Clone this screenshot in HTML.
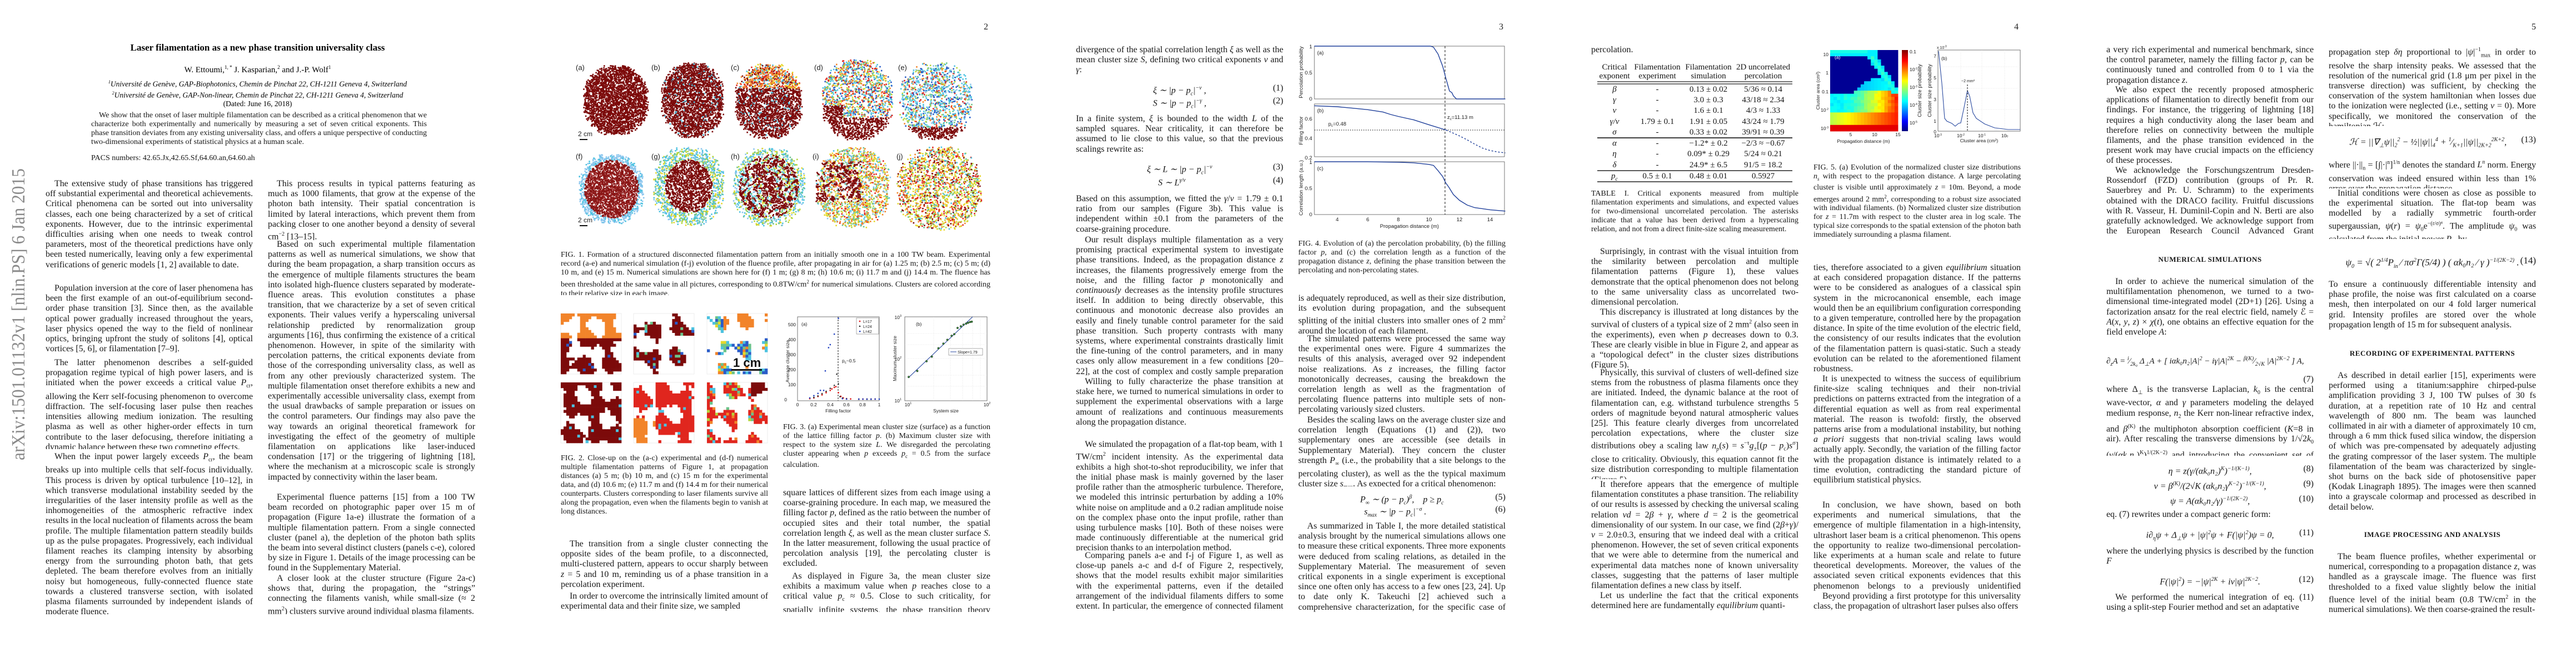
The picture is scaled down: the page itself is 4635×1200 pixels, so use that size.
<!DOCTYPE html>
<html><head><meta charset="utf-8">
<style>
html,body{margin:0;padding:0;background:#fff;}
body{width:4635px;height:1200px;position:relative;overflow:hidden;}
.pg{position:absolute;top:0;width:927px;height:1200px;}
.t{position:absolute;font-family:"Liberation Serif",serif;font-size:15.9px;line-height:18.2px;text-align:justify;overflow:hidden;width:373px;color:#161616;}
.L{left:82px}.Rr{left:482px}
.i{text-indent:16px}
.c{position:absolute;font-family:"Liberation Serif",serif;font-size:14px;line-height:16px;text-align:justify;overflow:hidden;color:#161616;}
.eq{position:absolute;width:373px;text-align:center;height:20px;line-height:20px;font-family:"Liberation Serif",serif;font-size:16px;font-style:italic;white-space:nowrap;color:#161616}
.eq .n{position:absolute;right:0;top:0;font-style:normal}
.pn{position:absolute;top:40px;font-family:"Liberation Serif",serif;font-size:16px;color:#222}
.h{position:absolute;width:373px;text-align:center;font-family:"Liberation Serif",serif;font-weight:bold;font-size:13px;letter-spacing:0.5px;color:#161616}
svg text{font-family:"Liberation Sans",sans-serif;}
</style></head><body>
<svg id="S" width="4635" height="1200" style="position:absolute;left:0;top:0">
<text transform="translate(44,828) rotate(-90)" font-family="Liberation Serif" style="font-family:'Liberation Serif',serif" font-size="34" textLength="525" lengthAdjust="spacingAndGlyphs" fill="#8a8a8a">arXiv:1501.01132v1  [nlin.PS]  6 Jan 2015</text>
<g id="f1"></g>
<g id="f2"></g>
<g font-size="13" fill="#222">
<text x="1036" y="126">(a)</text><text x="1172" y="126">(b)</text><text x="1315" y="126">(c)</text><text x="1465" y="126">(d)</text><text x="1616" y="126">(e)</text>
<text x="1036" y="286">(f)</text><text x="1172" y="286">(g)</text><text x="1315" y="286">(h)</text><text x="1462" y="286">(i)</text><text x="1613" y="286">(j)</text>
<text x="1040" y="245" font-size="12">2 cm</text><rect x="1043" y="250" width="14" height="2" fill="#111"/>
<text x="1040" y="400" font-size="12">2 cm</text><rect x="1043" y="405" width="14" height="2" fill="#111"/>
</g>
<g id="f3" font-size="8.5" fill="#222">
<rect x="1435" y="570" width="147" height="151" fill="#fff" stroke="#555" stroke-width="0.8"/>
<line x1="1508" y1="570" x2="1508" y2="721" stroke="#111" stroke-dasharray="3,2"/>
<text x="1416" y="722" text-anchor="end">0</text><text x="1432" y="695" text-anchor="end">100</text><text x="1432" y="668" text-anchor="end">200</text><text x="1432" y="641" text-anchor="end">300</text><text x="1432" y="614" text-anchor="end">400</text><text x="1432" y="587" text-anchor="end">500</text>
<text x="1435" y="731" text-anchor="middle">0</text><text x="1464" y="731" text-anchor="middle">0.2</text><text x="1494" y="731" text-anchor="middle">0.4</text><text x="1523" y="731" text-anchor="middle">0.6</text><text x="1552" y="731" text-anchor="middle">0.8</text><text x="1582" y="731" text-anchor="middle">1</text>
<text x="1508" y="742" text-anchor="middle">Filling factor</text>
<text transform="translate(1420,650) rotate(-90)" text-anchor="middle">Average cluster size</text>
<text x="1442" y="586">(a)</text>
<text x="1515" y="652">p<tspan font-size="6" dy="2">c</tspan><tspan dy="-2">~0.5</tspan></text>
<rect x="1541" y="572" width="40" height="29" fill="#fff" stroke="#777" stroke-width="0.6"/>
<circle cx="1547" cy="578" r="1.4" fill="#e02020"/><text x="1553" y="581" font-size="7">L=17</text>
<path d="M1547,585 l1.6,3 h-3.2z" fill="#111"/><text x="1553" y="590" font-size="7">L=24</text>
<rect x="1546" y="595" width="2.4" height="2.4" fill="#2040c0"/><text x="1553" y="599" font-size="7">L=42</text>
<rect x="1628" y="570" width="148" height="151" fill="#fff" stroke="#555" stroke-width="0.8"/>
<g stroke="#ccc" stroke-width="0.5" stroke-dasharray="1,2">
<line x1="1628" y1="645" x2="1776" y2="645"/><line x1="1628" y1="600" x2="1776" y2="600"/><line x1="1628" y1="620" x2="1776" y2="620"/><line x1="1628" y1="675" x2="1776" y2="675"/><line x1="1628" y1="695" x2="1776" y2="695"/>
<line x1="1680" y1="570" x2="1680" y2="721"/><line x1="1710" y1="570" x2="1710" y2="721"/><line x1="1732" y1="570" x2="1732" y2="721"/><line x1="1750" y1="570" x2="1750" y2="721"/><line x1="1764" y1="570" x2="1764" y2="721"/></g>
<line x1="1634" y1="680" x2="1750" y2="570" stroke="#2a4aa0" stroke-width="1.1"/>
<text x="1622" y="574" text-anchor="end">10<tspan font-size="5.5" dy="-4">3</tspan></text><text x="1622" y="649" text-anchor="end">10<tspan font-size="5.5" dy="-4">2</tspan></text><text x="1622" y="724" text-anchor="end">10<tspan font-size="5.5" dy="-4">1</tspan></text>
<text x="1634" y="731" text-anchor="middle">10<tspan font-size="5.5" dy="-4">1</tspan></text><text x="1776" y="731" text-anchor="middle">10<tspan font-size="5.5" dy="-4">2</tspan></text>
<text x="1702" y="742" text-anchor="middle">System size</text>
<text transform="translate(1613,645) rotate(-90)" text-anchor="middle">Maximum cluster size</text>
<text x="1648" y="586">(b)</text>
<rect x="1707" y="627" width="61" height="12" fill="#fff" stroke="#777" stroke-width="0.6"/><line x1="1710" y1="633" x2="1721" y2="633" stroke="#2a4aa0"/><text x="1723" y="636" font-size="7">Slope=1.79</text>
</g>
<g transform="translate(1854,0)" font-size="9.5" fill="#222" id="f4">
<rect x="511" y="83" width="342" height="95" fill="none" stroke="#555" stroke-width="0.8"/>
<rect x="511" y="187" width="342" height="95" fill="none" stroke="#555" stroke-width="0.8"/>
<rect x="511" y="291" width="342" height="95" fill="none" stroke="#555" stroke-width="0.8"/>
<line x1="746" y1="83" x2="746" y2="386" stroke="#111" stroke-dasharray="4,3"/>
<line x1="511" y1="234" x2="853" y2="234" stroke="#333" stroke-dasharray="2,2"/>
<text x="507" y="87" text-anchor="end">1</text><text x="507" y="134" text-anchor="end">0.5</text><text x="507" y="181" text-anchor="end">0</text>
<text x="507" y="217" text-anchor="end">0.6</text><text x="507" y="252" text-anchor="end">0.4</text><text x="507" y="287" text-anchor="end">0.2</text>
<text x="507" y="295" text-anchor="end">1</text><text x="507" y="342" text-anchor="end">0.5</text><text x="507" y="389" text-anchor="end">0</text>
<text x="552" y="398" text-anchor="middle">4</text><text x="607" y="398" text-anchor="middle">6</text><text x="662" y="398" text-anchor="middle">8</text><text x="717" y="398" text-anchor="middle">10</text><text x="772" y="398" text-anchor="middle">12</text><text x="827" y="398" text-anchor="middle">14</text>
<text x="682" y="410" text-anchor="middle">Propagation distance (m)</text>
<text transform="translate(490,130) rotate(-90)" text-anchor="middle">Percolation probability</text>
<text transform="translate(490,235) rotate(-90)" text-anchor="middle">Filling factor</text>
<text transform="translate(490,338) rotate(-90)" text-anchor="middle">Correlation length (a.u.)</text>
<text x="516" y="98">(a)</text><text x="516" y="202">(b)</text><text x="516" y="306">(c)</text>
<text x="536" y="226">p<tspan font-size="6" dy="2">c</tspan><tspan dy="-2">=0.48</tspan></text>
<text x="750" y="214">z<tspan font-size="6" dy="2">c</tspan><tspan dy="-2">=11.13 m</tspan></text>
<path id="c4a" fill="none" stroke="#1f3f9a" stroke-width="1.4"/>
<path id="c4b" fill="none" stroke="#1f3f9a" stroke-width="1.4"/>
<path id="c4b2" fill="none" stroke="#1f3f9a" stroke-width="1.4" stroke-dasharray="3,3"/>
<path id="c4c" fill="none" stroke="#1f3f9a" stroke-width="1.4"/>
</g>
<g transform="translate(2781,0)" stroke="#222">
<line x1="93" y1="147" x2="444" y2="147" stroke-width="1.2"/><line x1="93" y1="151" x2="444" y2="151" stroke-width="1.2"/>
<line x1="93" y1="248" x2="444" y2="248" stroke-width="1.8"/>
<line x1="93" y1="307" x2="444" y2="307" stroke-width="1.4"/>
<line x1="93" y1="327" x2="444" y2="327" stroke-width="1.4"/>
</g>
<g transform="translate(2781,0)" font-size="8.5" fill="#222">
<g id="hm"></g>
<defs><linearGradient id="jet" x1="0" y1="1" x2="0" y2="0"><stop offset="0" stop-color="#000080"/><stop offset="0.12" stop-color="#0000ff"/><stop offset="0.37" stop-color="#00ffff"/><stop offset="0.62" stop-color="#ffff00"/><stop offset="0.87" stop-color="#ff0000"/><stop offset="1" stop-color="#800000"/></linearGradient></defs>
<rect x="641" y="90" width="11" height="146" fill="url(#jet)"/>
<text x="655" y="96">0.1</text><text x="655" y="128">10<tspan font-size="5" dy="-3">-2</tspan></text><text x="655" y="160">10<tspan font-size="5" dy="-3">-3</tspan></text><text x="655" y="192">10<tspan font-size="5" dy="-3">-4</tspan></text><text x="655" y="224">10<tspan font-size="5" dy="-3">-5</tspan></text>
<text x="509" y="101" text-anchor="end">10</text><text x="509" y="134" text-anchor="end">1</text><text x="509" y="168" text-anchor="end">0.1</text><text x="509" y="201" text-anchor="end">10<tspan font-size="5" dy="-3">-2</tspan></text><text x="509" y="234" text-anchor="end">10<tspan font-size="5" dy="-3">-3</tspan></text>
<text x="549" y="245" text-anchor="middle">5</text><text x="592" y="245" text-anchor="middle">10</text><text x="634" y="245" text-anchor="middle">15</text>
<text x="572" y="257" text-anchor="middle">Propagation distance (m)</text>
<text transform="translate(493,163) rotate(-90)" text-anchor="middle">Cluster area (cm²)</text>
<text transform="translate(676,163) rotate(-90)" text-anchor="middle" font-size="9.5">Cluster size probability</text>
<text transform="translate(694,163) rotate(-90)" text-anchor="middle" font-size="9.5">Cluster size probability</text>
<text x="520" y="106" fill="#fff">(a)</text>
<rect x="706" y="90" width="148" height="146" fill="#fff" stroke="#555" stroke-width="0.8"/>
<g stroke="#ccc" stroke-width="0.5" stroke-dasharray="1,2"><line x1="747" y1="90" x2="747" y2="236"/><line x1="785" y1="90" x2="785" y2="236"/><line x1="826" y1="90" x2="826" y2="236"/><line x1="706" y1="120" x2="854" y2="120"/><line x1="706" y1="159" x2="854" y2="159"/><line x1="706" y1="197" x2="854" y2="197"/></g>
<polyline fill="none" stroke="#2a4aa0" stroke-width="1.1" points="707,92 713,150 718,213 722,218 731,222 737,227 743,222 747,221 753,193 759,163 763,173 769,203 775,213 790,223 808,230 832,233 854,233"/>
<line x1="759" y1="152" x2="759" y2="236" stroke="#111" stroke-dasharray="3,2"/>
<text x="748" y="148" font-size="7">~2 mm²</text>
<text x="704" y="88" font-size="7">x 10<tspan font-size="5" dy="-3">-3</tspan></text>
<text x="712" y="108">(b)</text>
<text x="703" y="104" text-anchor="end">7</text><text x="703" y="182" text-anchor="end">3</text><text x="703" y="240" text-anchor="end">0</text><text x="703" y="143" text-anchor="end">5</text><text x="703" y="221" text-anchor="end">1</text>
<text x="706" y="247" text-anchor="middle">10<tspan font-size="5" dy="-3">-3</tspan></text><text x="747" y="247" text-anchor="middle">10<tspan font-size="5" dy="-3">-2</tspan></text><text x="785" y="247" text-anchor="middle">10<tspan font-size="5" dy="-3">-1</tspan></text><text x="826" y="247" text-anchor="middle">10<tspan font-size="5" dy="0">0</tspan></text>
<text x="780" y="256" text-anchor="middle">Cluster area (cm²)</text>
</g>
</svg>

<div class="pg" style="left:0">
<div style="position:absolute;top:76px;left:0;width:927px;text-align:center;font-family:'Liberation Serif',serif;font-weight:bold;font-size:17px">Laser filamentation as a new phase transition universality class</div>
<div style="position:absolute;top:116px;left:0;width:927px;text-align:center;font-family:'Liberation Serif',serif;font-size:15px">W. Ettoumi,<sup style="font-size:9px">1, *</sup> J. Kasparian,<sup style="font-size:9px">2</sup> and J.-P. Wolf<sup style="font-size:9px">1</sup></div>
<div style="position:absolute;top:140px;left:0;width:927px;text-align:center;font-family:'Liberation Serif',serif;font-size:13.5px;font-style:italic;line-height:16px"><sup style="font-size:8px">1</sup>Université de Genève, GAP-Biophotonics, Chemin de Pinchat 22, CH-1211 Geneva 4, Switzerland<br><sup style="font-size:8px">2</sup>Université de Genève, GAP-Non-linear, Chemin de Pinchat 22, CH-1211 Geneva 4, Switzerland<br><span style="font-style:normal">(Dated: June 16, 2018)</span></div>
<div class="c" style="left:164px;top:200px;width:604px;height:64px;text-indent:14px">We show that the onset of laser multiple filamentation can be described as a critical phenomenon that we characterize both experimentally and numerically by measuring a set of seven critical exponents. This phase transition deviates from any existing universality class, and offers a unique perspective of conducting two-dimensional experiments of statistical physics at a human scale.</div>
<div class="c" style="left:164px;top:277px;width:604px;height:16px">PACS numbers: 42.65.Jx,42.65.Sf,64.60.an,64.60.ah</div>
<div class="t L i" style="top:322px;height:182px">The extensive study of phase transitions has triggered off substantial experimental and theoretical achievements. Critical phenomena can be sorted out into universality classes, each one being characterized by a set of critical exponents. However, due to the intrinsic experimental difficulties arising when one needs to tweak control parameters, most of the theoretical predictions have only been tested numerically, leaving only a few experimental verifications of generic models [1, 2] available to date.</div>
<div class="t L i" style="top:510px;height:128px">Population inversion at the core of laser phenomena has been the first example of an out-of-equilibrium second-order phase transition [3]. Since then, as the available optical power gradually increased throughout the years, laser physics opened the way to the field of nonlinear optics, bringing upfront the study of solitons [4], optical vortices [5, 6], or filamentation [7–9].</div>
<div class="t L i" style="top:644px;height:164px">The latter phenomenon describes a self-guided propagation regime typical of high power lasers, and is initiated when the power exceeds a critical value <i>P</i><sub style="font-size:10px">cr</sub>, allowing the Kerr self-focusing phenomenon to overcome diffraction. The self-focusing laser pulse then reaches intensities allowing medium ionization. The resulting plasma as well as other higher-order effects in turn contribute to the laser defocusing, therefore initiating a dynamic balance between these two competing effects.</div>
<div class="t L i" style="top:813px;height:292px">When the input power largely exceeds <i>P</i><sub style="font-size:10px">cr</sub>, the beam breaks up into multiple cells that self-focus individually. This process is driven by optical turbulence [10–12], in which transverse modulational instability seeded by the irregularities of the laser intensity profile as well as the inhomogeneities of the atmospheric refractive index results in the local nucleation of filaments across the beam profile. The multiple filamentation pattern steadily builds up as the pulse propagates. Progressively, each individual filament reaches its clamping intensity by absorbing energy from the surrounding photon bath, that gets depleted. The beam therefore evolves from an initially noisy but homogeneous, fully-connected fluence state towards a clustered transverse section, with isolated plasma filaments surrounded by independent islands of moderate fluence.</div>
<div class="t Rr i" style="top:322px;height:110px">This process results in typical patterns featuring as much as 1000 filaments, that grow at the expense of the photon bath intensity. Their spatial concentration is limited by lateral interactions, which prevent them from packing closer to one another beyond a density of several cm<sup style="font-size:10px">−2</sup> [13–15].</div>
<div class="t Rr i" style="top:431px;height:437px">Based on such experimental multiple filamentation patterns as well as numerical simulations, we show that during the beam propagation, a sharp transition occurs as the emergence of multiple filaments structures the beam into isolated high-fluence clusters separated by moderate-fluence areas. This evolution constitutes a phase transition, that we characterize by a set of seven critical exponents. Their values verify a hyperscaling universal relationship predicted by renormalization group arguments [16], thus confirming the existence of a critical phenomenon. However, in spite of the similarity with percolation patterns, the critical exponents deviate from those of the corresponding universality class, as well as from any other previously characterized system. The multiple filamentation onset therefore exhibits a new and experimentally accessible universality class, exempt from the usual drawbacks of sample preparation or issues on the control parameters. Our findings may also pave the way towards an original theoretical framework for investigating the effect of the geometry of multiple filamentation on applications like laser-induced condensation [17] or the triggering of lightning [18], where the mechanism at a microscopic scale is strongly impacted by connectivity within the laser beam.</div>
<div class="t Rr i" style="top:886px;height:146px">Experimental fluence patterns [15] from a 100 TW beam recorded on photographic paper over 15 m of propagation (Figure 1a-e) illustrate the formation of a multiple filamentation pattern. From a single connected cluster (panel a), the depletion of the photon bath splits the beam into several distinct clusters (panels c-e), colored by size in Figure 1. Details of the image processing can be found in the Supplementary Material.</div>
<div class="t Rr i" style="top:1032px;height:73px">A closer look at the cluster structure (Figure 2a-c) shows that, during the propagation, the “strings” connecting the filaments vanish, while small-size (≈ 2 mm<sup style="font-size:10px">2</sup>) clusters survive around individual plasma filaments.</div>
</div>

<div class="pg" style="left:927px">
<div class="pn" style="left:843px">2</div>
<div class="c" style="left:82px;top:451px;width:773px;height:80px">FIG. 1. Formation of a structured disconnected filamentation pattern from an initially smooth one in a 100 TW beam. Experimental record (a-e) and numerical simulation (f-j) evolution of the fluence profile, after propagating in air for (a) 1.25 m; (b) 2.5 m; (c) 5 m; (d) 10 m, and (e) 15 m. Numerical simulations are shown here for (f) 1 m; (g) 8 m; (h) 10.6 m; (i) 11.7 m and (j) 14.4 m. The fluence has been thresholded at the same value in all pictures, corresponding to 0.8TW/cm<sup style="font-size:9px">2</sup> for numerical simulations. Clusters are colored according to their relative size in each image.</div>
<div class="c" style="left:82px;top:817px;width:373px;height:112px">FIG. 2. Close-up on the (a-c) experimental and (d-f) numerical multiple filamentation patterns of Figure 1, at propagation distances (a) 5 m; (b) 10 m, and (c) 15 m for the experimental data, and (d) 10.6 m; (e) 11.7 m and (f) 14.4 m for their numerical counterparts. Clusters corresponding to laser filaments survive all along the propagation, even when the filaments begin to vanish at long distances.</div>
<div class="c" style="left:482px;top:761px;width:373px;height:80px">FIG. 3. (a) Experimental mean cluster size (surface) as a function of the lattice filling factor <i>p</i>. (b) Maximum cluster size with respect to the system size <i>L</i>. We disregarded the percolating cluster appearing when <i>p</i> exceeds <i>p</i><sub style="font-size:9px">c</sub> = 0.5 from the surface calculation.</div>
<div class="t L i" style="top:970px;height:91px">The transition from a single cluster connecting the opposite sides of the beam profile, to a disconnected, multi-clustered pattern, appears to occur sharply between <i>z</i> = 5 and 10 m, reminding us of a phase transition in a percolation experiment.</div>
<div class="t L i" style="top:1064px;height:37px">In order to overcome the intrinsically limited amount of experimental data and their finite size, we sampled</div>
<div class="t Rr" style="top:878px;height:146px">square lattices of different sizes from each image using a coarse-graining procedure. In each map, we measured the filling factor <i>p</i>, defined as the ratio between the number of occupied sites and their total number, the spatial correlation length <i>ξ</i>, as well as the mean cluster surface <i>S</i>. In the latter measurement, following the usual practice of percolation analysis [19], the percolating cluster is excluded.</div>
<div class="t Rr i" style="top:1028px;height:73px">As displayed in Figure 3a, the mean cluster size exhibits a maximum value when <i>p</i> reaches close to a critical value <i>p</i><sub style="font-size:10px">c</sub> ≈ 0.5. Close to such criticality, for spatially infinite systems, the phase transition theory predicts a</div>
</div>

<div class="pg" style="left:1854px">
<div class="pn" style="left:843px">3</div>
<div class="t L" style="top:81px;height:55px">divergence of the spatial correlation length <i>ξ</i> as well as the mean cluster size <i>S</i>, defining two critical exponents <i>ν</i> and <i>γ</i>:</div>
<div class="eq" style="left:82px;top:149px">ξ ∼ |p − p<sub style="font-size:10px">c</sub>|<sup style="font-size:10px">−ν</sup> ,<span class="n">(1)</span></div>
<div class="eq" style="left:82px;top:172px">S ∼ |p − p<sub style="font-size:10px">c</sub>|<sup style="font-size:10px">−γ</sup> ,<span class="n">(2)</span></div>
<div class="t L" style="top:205px;height:73px">In a finite system, <i>ξ</i> is bounded to the width <i>L</i> of the sampled squares. Near criticality, it can therefore be assumed to lie close to this value, so that the previous scalings rewrite as:</div>
<div class="eq" style="left:82px;top:291px">ξ ∼ L ∼ |p − p<sub style="font-size:10px">c</sub>|<sup style="font-size:10px">−ν</sup><span class="n">(3)</span></div>
<div class="eq" style="left:82px;top:315px">S ∼ L<sup style="font-size:10px">γ/ν</sup>&nbsp;&nbsp;&nbsp;&nbsp;&nbsp;&nbsp;&nbsp;<span class="n">(4)</span></div>
<div class="t L" style="top:349px;height:73px">Based on this assumption, we fitted the <i>γ</i>/<i>ν</i> = 1.79 ± 0.1 ratio from our samples (Figure 3b). This value is independent within ±0.1 from the parameters of the coarse-graining procedure.</div>
<div class="t L i" style="top:423px;height:255px">Our result displays multiple filamentation as a very promising practical experimental system to investigate phase transitions. Indeed, as the propagation distance <i>z</i> increases, the filaments progressively emerge from the noise, and the filling factor <i>p</i> monotonically and <i>continuously</i> decreases as the intensity profile structures itself. In addition to being directly observable, this continuous and monotonic decrease also provides an easily and finely tunable control parameter for the said phase transition. Such property contrasts with many systems, where experimental constraints drastically limit the fine-tuning of the control parameters, and in many cases only allow measurement in a few conditions [20–22], at the cost of complex and costly sample preparation [1].</div>
<div class="t L i" style="top:678px;height:91px">Willing to fully characterize the phase transition at stake here, we turned to numerical simulations in order to supplement the experimental observations with a large amount of realizations and continuous measurements along the propagation distance.</div>
<div class="t L i" style="top:791px;height:200px">We simulated the propagation of a flat-top beam, with 1 TW/cm<sup style="font-size:10px">2</sup> incident intensity. As the experimental data exhibits a high shot-to-shot reproducibility, we infer that the initial phase mask is mainly governed by the laser profile rather than the atmospheric turbulence. Therefore, we modeled this intrinsic perturbation by adding a 10% white noise on amplitude and a 0.2 radian amplitude noise on the complex phase onto the input profile, rather than using turbulence masks [10]. Both of these noises were made continuously differentiable at the numerical grid precision thanks to an interpolation method.</div>
<div class="t L i" style="top:991px;height:110px">Comparing panels a-e and f-j of Figure 1, as well as close-up panels a-c and d-f of Figure 2, respectively, shows that the model results exhibit major similarities with the experimental patterns, even if the detailed arrangement of the individual filaments differs to some extent. In particular, the emergence of connected filament clusters</div>
<div class="c" style="left:482px;top:431px;width:373px;height:64px">FIG. 4. Evolution of (a) the percolation probability, (b) the filling factor <i>p</i>, and (c) the correlation length as a function of the propagation distance <i>z</i>, defining the phase transition between the percolating and non-percolating states.</div>
<div class="t Rr" style="top:528px;height:73px">is adequately reproduced, as well as their size distribution, its evolution during propagation, and the subsequent splitting of the initial clusters into smaller ones of 2 mm<sup style="font-size:10px">2</sup> around the location of each filament.</div>
<div class="t Rr i" style="top:601px;height:146px">The simulated patterns were processed the same way the experimental ones were. Figure 4 summarizes the results of this analysis, averaged over 92 independent noise realizations. As <i>z</i> increases, the filling factor monotonically decreases, causing the breakdown the correlation length as well as the fragmentation of percolating fluence patterns into multiple sets of non-percolating variously sized clusters.</div>
<div class="t Rr i" style="top:747px;height:128px">Besides the scaling laws on the average cluster size and correlation length (Equations (1) and (2)), two supplementary ones are accessible (see details in Supplementary Material). They concern the cluster strength <i>P</i><sub style="font-size:10px">∞</sub> (i.e., the probability that a site belongs to the percolating cluster), as well as the the typical maximum cluster size <i>s</i><sub style="font-size:10px">max</sub>. As expected for a critical phenomenon:</div>
<div class="eq" style="left:482px;top:885px">P<sub style="font-size:10px">∞</sub> ∼ (p − p<sub style="font-size:10px">c</sub>)<sup style="font-size:10px">β</sup>,&nbsp;&nbsp;&nbsp; p ≥ p<sub style="font-size:10px">c</sub><span class="n">(5)</span></div>
<div class="eq" style="left:482px;top:907px">s<sub style="font-size:10px">max</sub> ∼ |p − p<sub style="font-size:10px">c</sub>|<sup style="font-size:10px">−σ</sup> .&nbsp;&nbsp;&nbsp;&nbsp;&nbsp;&nbsp;<span class="n">(6)</span></div>
<div class="t Rr i" style="top:938px;height:164px">As summarized in Table I, the more detailed statistical analysis brought by the numerical simulations allows one to measure these critical exponents. Three more exponents were deduced from scaling relations, as detailed in the Supplementary Material. The measurement of seven critical exponents in a single experiment is exceptional since one often only has access to a few ones [23, 24]. Up to date only K. Takeuchi [2] achieved such a comprehensive characterization, for the specific case of directed</div>
</div>

<div class="pg" style="left:2781px">
<div class="pn" style="left:843px">4</div>
<div class="t L" style="top:81px;height:19px">percolation.</div>
<div style="position:absolute;left:93px;top:113px;width:351px;font-family:'Liberation Serif',serif;font-size:15px;line-height:19.5px;color:#161616">
<div style="display:flex;text-align:center;line-height:16px"><div style="width:62px">Critical<br>exponent</div><div style="width:92px">Filamentation<br>experiment</div><div style="width:92px">Filamentation<br>simulation</div><div style="width:105px">2D uncorrelated<br>percolation</div></div>
<div id="tb" style="position:absolute;top:40px;left:0;width:351px"></div>
</div>
<div class="c" style="left:82px;top:341px;width:373px;height:80px">TABLE I. Critical exponents measured from multiple filamentation experiments and simulations, and expected values for two-dimensional uncorrelated percolation. The asterisks indicate that a value has been derived from a hyperscaling relation, and not from a direct finite-size scaling measurement.</div>
<div class="t L i" style="top:444px;height:110px">Surprisingly, in contrast with the visual intuition from the similarity between percolation and multiple filamentation patterns (Figure 1), these values demonstrate that the optical phenomenon does not belong to the same universality class as uncorrelated two-dimensional percolation.</div>
<div class="t L i" style="top:553px;height:110px">This discrepancy is illustrated at long distances by the survival of clusters of a typical size of 2 mm<sup style="font-size:10px">2</sup> (also seen in the experiments), even when <i>p</i> decreases down to 0.3. These are clearly visible in blue in Figure 2, and appear as a “topological defect” in the cluster sizes distributions (Figure 5).</div>
<div class="t L i" style="top:662px;height:200px">Physically, this survival of clusters of well-defined size stems from the robustness of plasma filaments once they are initiated. Indeed, the dynamic balance at the root of filamentation can, e.g. withstand turbulence strengths 5 orders of magnitude beyond natural atmospheric values [25]. This feature clearly diverges from uncorrelated percolation expectations, where the cluster size distributions obey a scaling law <i>n<sub style="font-size:10px">p</sub></i>(<i>s</i>) = <i>s</i><sup style="font-size:10px">−τ</sup><i>g</i><sub style="font-size:10px">±</sub>[(<i>p</i> − <i>p</i><sub style="font-size:10px">c</sub>)<i>s</i><sup style="font-size:10px">σ</sup>] close to criticality. Obviously, this equation cannot fit the size distribution corresponding to multiple filamentation (Figure 5).</div>
<div class="t L i" style="top:863px;height:200px">It therefore appears that the emergence of multiple filamentation constitutes a phase transition. The reliability of our results is assessed by checking the universal scaling relation <i>νd</i> = 2<i>β</i> + <i>γ</i>, where <i>d</i> = 2 is the geometrical dimensionality of our system. In our case, we find (2<i>β</i>+<i>γ</i>)/<i>ν</i> = 2.0±0.3, ensuring that we indeed deal with a critical phenomenon. However, the set of seven critical exponents that we were able to determine from the numerical and experimental data matches none of known universality classes, suggesting that the patterns of laser multiple filamentation defines a new class by itself.</div>
<div class="t L i" style="top:1063px;height:37px">Let us underline the fact that the critical exponents determined here are fundamentally <i>equilibrium</i> quanti-</div>
<div class="c" style="left:482px;top:294px;width:373px;height:144px">FIG. 5. (a) Evolution of the normalized cluster size distributions <i>n<sub style="font-size:9px">s</sub></i> with respect to the propagation distance. A large percolating cluster is visible until approximately <i>z</i> = 10m. Beyond, a mode emerges around 2 mm<sup style="font-size:9px">2</sup>, corresponding to a robust size associated with individual filaments. (b) Normalized cluster size distribution for <i>z</i> = 11.7m with respect to the cluster area in log scale. The typical size corresponds to the spatial extension of the photon bath immediately surrounding a plasma filament.</div>
<div class="t Rr" style="top:473px;height:200px">ties, therefore associated to a given <i>equilibrium</i> situation at each considered propagation distance. If the patterns were to be considered as analogues of a classical spin system in the microcanonical ensemble, each image would then be an equilibrium configuration corresponding to a given temperature, controlled here by the propagation distance. In spite of the time evolution of the electric field, the consistency of our results indicates that the evolution of the filamentation pattern is quasi-static. Such a steady evolution can be related to the aforementioned filament robustness.</div>
<div class="t Rr i" style="top:673px;height:200px">It is unexpected to witness the success of equilibrium finite-size scaling techniques and their non-trivial predictions on patterns extracted from the integration of a differential equation as well as from real experimental material. The reason is twofold: firstly, the observed patterns arise from a modulational instability, but nothing <i>a priori</i> suggests that non-trivial scaling laws would actually apply. Secondly, the variation of the filling factor with the propagation distance is intimately related to a time evolution, contradicting the standard picture of equilibrium statistical physics.</div>
<div class="t Rr i" style="top:900px;height:164px">In conclusion, we have shown, based on both experiments and numerical simulations, that the emergence of multiple filamentation in a high-intensity, ultrashort laser beam is a critical phenomenon. This opens the opportunity to realize two-dimensional percolation-like experiments at a human scale and relate to future theoretical developments. Moreover, the values of the associated seven critical exponents evidences that this phenomenon belongs to a previously unidentified universality class.</div>
<div class="t Rr i" style="top:1064px;height:37px">Beyond providing a first prototype for this universality class, the propagation of ultrashort laser pulses also offers</div>
</div>

<div class="pg" style="left:3708px">
<div class="pn" style="left:847px">5</div>
<div class="t L" style="top:81px;height:73px">a very rich experimental and numerical benchmark, since the control parameter, namely the filling factor <i>p</i>, can be continuously tuned and controlled from 0 to 1 via the propagation distance <i>z</i>.</div>
<div class="t L i" style="top:153px;height:146px">We also expect the recently proposed atmospheric applications of filamentation to directly benefit from our findings. For instance, the triggering of lightning [18] requires a high conductivity along the laser beam and therefore relies on connectivity between the multiple filaments, and the phase transition evidenced in the present work may have crucial impacts on the efficiency of these processes.</div>
<div class="t L i" style="top:298px;height:128px">We acknowledge the Forschungszentrum Dresden-Rossendorf (FZD) contribution (groups of Pr. R. Sauerbrey and Pr. U. Schramm) to the experiments obtained with the DRACO facility. Fruitful discussions with R. Vasseur, H. Duminil-Copin and N. Berti are also gratefully acknowledged. We acknowledge support from the European Research Council Advanced Grant “Filatmo”.</div>
<div class="h L" style="top:459px">NUMERICAL SIMULATIONS</div>
<div class="t L i" style="top:498px;height:110px">In order to achieve the numerical simulation of the multifilamentation phenomenon, we turned to a two-dimensional time-integrated model (2D+1) [26]. Using a factorization ansatz for the real electric field, namely ℰ = <i>A</i>(<i>x</i>, <i>y</i>, <i>z</i>) × <i>χ</i>(<i>t</i>), one obtains an effective equation for the field envelope <i>A</i>:</div>
<div class="eq" style="left:82px;top:636px;width:395px;text-align:left;font-size:15px">∂<sub style="font-size:10px">z</sub>A = <sup style="font-size:10px">i</sup>⁄<sub style="font-size:10px">2k₀</sub> Δ<sub style="font-size:10px">⊥</sub>A + [ iαk₀n₂|A|<sup style="font-size:10px">2</sup> − iγ|A|<sup style="font-size:10px">2K</sup> − <sup style="font-size:10px">β(K)</sup>⁄<sub style="font-size:10px">2√K</sub> |A|<sup style="font-size:10px">2K−2</sup> ] A,</div>
<div class="eq" style="left:82px;top:673px"><span class="n">(7)</span></div>
<div class="t L" style="top:692px;height:128px">where Δ<sub style="font-size:10px">⊥</sub> is the transverse Laplacian, <i>k</i><sub style="font-size:10px">0</sub> is the central wave-vector, <i>α</i> and <i>γ</i> parameters modeling the delayed medium response, <i>n</i><sub style="font-size:10px">2</sub> the Kerr non-linear refractive index, and <i>β</i><sup style="font-size:10px">(K)</sup> the multiphoton absorption coefficient (<i>K</i>=8 in air). After rescaling the transverse dimensions by 1/√2<i>k</i><sub style="font-size:10px">0</sub> (<i>γ</i>/(<i>αk</i><sub style="font-size:10px">0</sub><i>n</i><sub style="font-size:10px">2</sub>)<sup style="font-size:10px">K</sup>)<sup style="font-size:10px">1/(2K−2)</sup> and introducing the convenient set of dimensionless variables</div>
<div class="eq" style="left:82px;top:834px">η = z(γ/(αk₀n₂)<sup style="font-size:10px">K</sup>)<sup style="font-size:10px">−1/(K−1)</sup>,<span class="n">(8)</span></div>
<div class="eq" style="left:82px;top:861px">ν = β<sup style="font-size:10px">(K)</sup>/(2√K (αk₀n₂γ<sup style="font-size:10px">K−2</sup>)<sup style="font-size:10px">−1/(K−1)</sup>,<span class="n">(9)</span></div>
<div class="eq" style="left:82px;top:888px">ψ = A(αk₀n₂/γ)<sup style="font-size:10px">−1/(2K−2)</sup>,<span class="n">(10)</span></div>
<div class="t L" style="top:917px;height:19px">eq. (7) rewrites under a compact generic form:</div>
<div class="eq" style="left:82px;top:949px">i∂<sub style="font-size:10px">η</sub>ψ + Δ<sub style="font-size:10px">⊥</sub>ψ + |ψ|<sup style="font-size:10px">2</sup>ψ + F(|ψ|<sup style="font-size:10px">2</sup>)ψ = 0,<span class="n">(11)</span></div>
<div class="t L" style="top:983px;height:37px">where the underlying physics is described by the function <i>F</i></div>
<div class="eq" style="left:82px;top:1033px">F(|ψ|<sup style="font-size:10px">2</sup>) = −|ψ|<sup style="font-size:10px">2K</sup> + iν|ψ|<sup style="font-size:10px">2K−2</sup>.<span class="n">(12)</span></div>
<div class="t L i" style="top:1066px;height:37px">We performed the numerical integration of eq. (11) using a split-step Fourier method and set an adaptative</div>
<div class="t Rr" style="top:81px;height:146px">propagation step <i>δη</i> proportional to |<i>ψ</i>|<sup style="font-size:10px">−1</sup><sub style="font-size:10px">max</sub> in order to resolve the sharp intensity peaks. We assessed that the resolution of the numerical grid (1.8 μm per pixel in the transverse direction) was sufficient, by checking the conservation of the system hamiltonian when losses due to the ionization were neglected (i.e., setting <i>ν</i> = 0). More specifically, we monitored the conservation of the hamiltonian ℋ:</div>
<div class="eq" style="left:482px;top:242px">ℋ = ||∇<sub style="font-size:10px">⊥</sub>ψ||<sub style="font-size:10px">2</sub><sup style="font-size:10px">2</sup> − ½||ψ||<sub style="font-size:10px">4</sub><sup style="font-size:10px">4</sup> + <sup style="font-size:10px">1</sup>⁄<sub style="font-size:10px">K+1</sub>||ψ||<sub style="font-size:10px">2K+2</sub><sup style="font-size:10px">2K+2</sup>,&nbsp;&nbsp;&nbsp;&nbsp;<span class="n">(13)</span></div>
<div class="t Rr" style="top:284px;height:55px">where ||·||<sub style="font-size:10px">n</sub> = [∫|·|<sup style="font-size:10px">n</sup>]<sup style="font-size:10px">1/n</sup> denotes the standard <i>L<sup style="font-size:10px">n</sup></i> norm. Energy conservation was indeed ensured within less than 1% error over the propagation distance.</div>
<div class="t Rr i" style="top:339px;height:91px">Initial conditions were chosen as close as possible to the experimental situation. The flat-top beam was modelled by a radially symmetric fourth-order supergaussian, <i>ψ</i>(<i>r</i>) = <i>ψ</i><sub style="font-size:10px">0</sub>e<sup style="font-size:10px">−(r/σ)⁴</sup>. The amplitude <i>ψ</i><sub style="font-size:10px">0</sub> was calculated from the initial power <i>P</i><sub style="font-size:10px">in</sub> by</div>
<div class="eq" style="left:482px;top:459px;font-size:17px">ψ<sub style="font-size:10px">0</sub> = √( 2<sup style="font-size:10px">1/4</sup>P<sub style="font-size:10px">in</sub> ⁄ πσ<sup style="font-size:10px">2</sup>Γ(5/4) ) ( αk₀n₂ ⁄ γ )<sup style="font-size:10px">−1/(2K−2)</sup> .<span class="n">(14)</span></div>
<div class="t Rr" style="top:503px;height:91px">To ensure a continuously differentiable intensity and phase profile, the noise was first calculated on a coarse mesh, then interpolated on our 4 fold larger numerical grid. Intensity profiles are stored over the whole propagation length of 15 m for subsequent analysis.</div>
<div class="h Rr" style="top:628px">RECORDING OF EXPERIMENTAL PATTERNS</div>
<div class="t Rr i" style="top:667px;height:255px">As described in detail earlier [15], experiments were performed using a titanium:sapphire chirped-pulse amplification providing 3 J, 100 TW pulses of 30 fs duration, at a repetition rate of 10 Hz and central wavelength of 800 nm. The beam was launched collimated in air with a diameter of approximately 10 cm, through a 6 mm thick fused silica window, the dispersion of which was pre-compensated by adequately adjusting the grating compressor of the laser system. The multiple filamentation of the beam was characterized by single-shot burns on the back side of photosensitive paper (Kodak Linagraph 1895). The images were then scanned into a grayscale colormap and processed as described in detail below.</div>
<div class="h Rr" style="top:954px">IMAGE PROCESSING AND ANALYSIS</div>
<div class="t Rr i" style="top:993px;height:110px">The beam fluence profiles, whether experimental or numerical, corresponding to a propagation distance <i>z</i>, was handled as a grayscale image. The fluence was first thresholded to a fixed value slightly below the initial fluence level of the initial beam (0.8 TW/cm<sup style="font-size:10px">2</sup> in the numerical simulations). We then coarse-grained the result-</div>
</div>

<script>
var s=7;function R(){s=(s*16807)%2147483647;return s/2147483647;}
var NS='http://www.w3.org/2000/svg';
function el(p,t,a){var e=document.createElementNS(NS,t);for(var k in a)e.setAttribute(k,a[k]);p.appendChild(e);return e;}
function pick(a){return a[Math.floor(R()*a.length)];}
var DR='#7c0a0a',RD='#e0261e',OR='#f2842a',YE='#e6d82a',YG='#b4d63a',GR='#6cc48a',CY='#4cc2e0',LB='#8cc6ee',BL='#2a5cc8';
var g1=document.getElementById('f1');
function wav(x,y){return Math.sin(x*17+3*Math.sin(y*9))*Math.sin(y*15+2*Math.sin(x*11));}
function panel(cx,cy,rx,ry,n,fn,sz){for(var i=0;i<n;i++){var x=R()*2-1,y=R()*2-1,r=Math.sqrt(x*x+y*y);if(r>1.06)continue;if(r>0.97&&R()<0.6)continue;var c=fn(x,y,r);if(!c)continue;el(g1,'rect',{x:(cx+x*rx).toFixed(1),y:(cy+y*ry).toFixed(1),width:sz,height:sz,fill:c});}}
panel(1107,179,58,62,3800,function(x,y,r){return R()<0.04?null:DR;},2.6);
panel(1245,179,56,67,3800,function(x,y,r){return R()<0.86?DR:(R()<0.4?CY:null);},2.6);
panel(1382,181,60,67,3800,function(x,y,r){if(y<-0.35)return pick([OR,OR,YE,RD,null,null,CY,DR]);return R()<0.78?DR:(R()<0.3?CY:null);},2.6);
panel(1541,178,64,72,3800,function(x,y,r){if(y>0.45||(y>0.15&&x<-0.4))return R()<0.85?DR:null;return R()<0.5?pick([RD,OR,YE,YG,GR,CY,CY,BL,BL,RD,OR,CY]):null;},2.6);
panel(1683,181,65,69,3800,function(x,y,r){if(y>0.68)return R()<0.8?DR:null;return R()<0.42?pick([CY,CY,LB,BL,BL,GR,YG,OR,RD,CY]):null;},2.6);
panel(1099,339,58,62,3800,function(x,y,r){if(r<0.84)return R()<0.9?'#8a1616':'#c05050';return R()<0.6?pick([LB,CY,LB]):null;},2.6);
panel(1238,334,63,70,3800,function(x,y,r){if(r<0.68)return R()<0.85?DR:null;return R()<0.6?pick([GR,YG,CY,LB,CY,YE]):null;},2.6);
panel(1382,335,65,70,3800,function(x,y,r){if(r<0.82&&wav(x,y)>-0.15)return DR;return R()<0.5?pick([GR,YG,CY,LB,CY,YE]):null;},2.6);
panel(1534,336,67,72,3800,function(x,y,r){if(x<0.25&&y<0.35&&y>-0.65&&wav(x,y)>0.05)return DR;return R()<0.55?pick([RD,OR,YE,YG,GR,CY,LB,YE,OR]):null;},2.6);
panel(1689,338,76,75,3800,function(x,y,r){return R()<0.6?pick([RD,YE,OR,YG,GR,CY,YE,RD,DR,YE]):null;},2.6);
var g2=document.getElementById('f2');
function sq(ox,oy,th,cf,ph){var n=22,cs=109/n;var a=ph*1.3,b=ph*2.1,c=ph*0.7;
 el(g2,'rect',{x:ox,y:oy,width:109,height:109,fill:'#fff',stroke:'#ddd','stroke-width':0.5});
 for(var i=0;i<n;i++)for(var j=0;j<n;j++){var f=Math.sin(i*0.75+a)+Math.sin(j*0.65+b)+0.8*Math.sin((i-j)*0.5+c)+(R()-0.5)*0.9;if(f<=th)continue;var col=cf(i,j);if(!col)continue;el(g2,'rect',{x:(ox+i*cs).toFixed(1),y:(oy+j*cs).toFixed(1),width:(cs+0.3).toFixed(1),height:(cs+0.3).toFixed(1),fill:col});}}
var P2=927;
sq(P2+82,564,-0.1,function(i,j){return j<9?OR:(R()<0.03?BL:DR);},1);
sq(P2+213,564,0.35,function(i,j){return R()<0.88?DR:pick([BL,CY,GR]);},2);
sq(P2+345,564,0.7,function(i,j){if(j<9&&i>5)return OR;return pick([CY,BL,GR,OR,YE,CY,BL]);},3);
sq(P2+82,688,-0.3,function(i,j){return R()<0.96?DR:CY;},4);
sq(P2+213,688,-0.3,function(i,j){return (i<8&&j>12)?OR:(R()<0.95?RD:CY);},5);
sq(P2+345,688,0.3,function(i,j){if(i>15&&j<6)return DR;if(R()<0.7)return RD;return pick([GR,YG,CY,OR]);},6);
el(g2,'rect',{x:P2+389,y:664,width:55,height:3,fill:'#111'});
var t=el(g2,'text',{x:P2+392,y:660,'font-size':22,'font-weight':'bold',fill:'#111'});t.textContent='1 cm';
var g3=document.getElementById('f3');
function X3(v){return 927+508+v*147;}function Y3(u){return 718.6-u*0.27;}
[[0.15,5],[0.2,10],[0.25,20],[0.3,30],[0.35,45],[0.4,60],[0.42,70],[0.45,80],[0.47,85],[0.5,45],[0.53,20],[0.56,10],[0.6,5],[0.65,3],[0.75,2],[0.8,2],[0.85,2],[0.9,2],[0.95,2]].forEach(function(p){el(g3,'circle',{cx:X3(p[0]),cy:Y3(p[1]),r:1.4,fill:'#e02020'});});
[[0.2,15],[0.25,25],[0.3,40],[0.35,55],[0.4,75],[0.45,95],[0.48,170],[0.5,105],[0.52,20],[0.55,10],[0.6,5],[0.75,2],[0.85,2],[0.9,2]].forEach(function(p){var x=X3(p[0]),y=Y3(p[1]);el(g3,'path',{d:'M'+x+','+(y-1.6)+' l1.6,3 h-3.2z',fill:'#111'});});
[[0.15,10],[0.2,25],[0.25,40],[0.28,60],[0.32,60],[0.34,190],[0.38,345],[0.4,365],[0.45,435],[0.5,540],[0.55,5],[0.6,2],[0.75,2],[0.8,2],[0.85,2],[0.9,2],[0.95,2],[1,2]].forEach(function(p){el(g3,'rect',{x:X3(p[0])-1.2,y:Y3(p[1])-1.2,width:2.4,height:2.4,fill:'#2040c0'});});
[[1192,489],[1218,467],[1246,431],[1262,414],[1282,383],[1297,366],[1309,352],[1322,337],[1330,331],[1340,308],[1350,302],[1358,296],[1366,292],[1372,289],[1378,286],[1383,285]].forEach(function(p){el(g3,'circle',{cx:927+p[0]*0.594,cy:440+p[1]*0.487,r:1.7,fill:'#3a8a3a',stroke:'#111','stroke-width':0.5});});
function X4(z){return 552+(z-4)*27.5;}
function pth(id,pts,yf){document.getElementById(id).setAttribute('d','M'+pts.map(function(p){return X4(p[0]).toFixed(1)+','+yf(p[1]).toFixed(1);}).join(' L'));}
pth('c4a',[[2.5,1],[10.1,1],[10.3,0.98],[10.6,0.85],[10.9,0.62],[11.1,0.4],[11.2,0.3],[11.35,0.15],[11.5,0.12],[11.6,0.06],[11.8,0],[15,0]],function(v){return 178-95*v;});
pth('c4b',[[2.5,0.73],[4,0.72],[5,0.705],[6,0.69],[7,0.665],[7.5,0.64],[8,0.62],[9,0.585],[10,0.535],[11.13,0.48]],function(v){return 283-(v-0.2)*175;});
pth('c4b2',[[11.13,0.48],[11.5,0.455],[12,0.42],[12.5,0.38],[13,0.335],[13.5,0.295],[14,0.27],[14.5,0.255],[15,0.245]],function(v){return 283-(v-0.2)*175;});
pth('c4c',[[2.5,1],[6,1],[8,0.99],[9,0.98],[10,0.95],[10.3,0.93],[10.6,0.83],[10.9,0.72],[11.1,0.6],[11.3,0.52],[11.6,0.38],[12,0.27],[12.5,0.18],[13,0.13],[14,0.09],[15,0.065]],function(v){return 386-95*v;});
function cl(v){return Math.max(0,Math.min(1,v));}
function jet(v){var r=cl(1.5-Math.abs(4*v-3)),g=cl(1.5-Math.abs(4*v-2)),b=cl(1.5-Math.abs(4*v-1));return 'rgb('+Math.round(r*255)+','+Math.round(g*255)+','+Math.round(b*255)+')';}
var hm=document.getElementById('hm');var NC=20,NR=26,cw=122/NC,ch=146/NR;
for(var i=0;i<NC;i++)for(var j=0;j<NR;j++){var u=(i+0.5)/NC,v=(j+0.5)/NR,val=0.02;
 var us=0.58+0.4*(v-0.04)/0.5;var vb=u<0.3?0.55:(u<0.6?0.55-(u-0.3)*0.66:0.35);
 if(v<0.04&&u<0.55)val=0.4;else if(v<0.07&&u<0.7)val=0.36;
 else if(v<0.55&&Math.abs(u-us)<0.07)val=0.33+0.1*(1-Math.abs(u-us)/0.07);
 else if(v>vb && !(u>us+0.07&&v<0.5)){ if(v>0.93)val=0.9; else if(v>0.78)val=0.55+0.3*u; else if(v>0.5)val=0.34+0.5*u*u+0.05*R(); else val=0.25+0.15*u;}
 el(hm,'rect',{x:(512+i*cw).toFixed(2),y:(90+j*ch).toFixed(2),width:(cw+0.4).toFixed(2),height:(ch+0.4).toFixed(2),fill:jet(val)});}
var rows=[['β','-','0.13 ± 0.02','5/36 ≈ 0.14'],['γ','-','3.0 ± 0.3','43/18 ≈ 2.34'],['ν','-','1.6 ± 0.1','4/3 ≈ 1.33'],['γ/ν','1.79 ± 0.1','1.91 ± 0.05','43/24 ≈ 1.79'],['σ','-','0.33 ± 0.02','39/91 ≈ 0.39'],['α','-','−1.2* ± 0.2','−2/3 ≈ −0.67'],['η','-','0.09* ± 0.29','5/24 ≈ 0.21'],['δ','-','24.9* ± 6.5','91/5 = 18.2'],['p<sub style="font-size:10px">c</sub>','0.5 ± 0.1','0.48 ± 0.01','0.5927']];
var ys=[162,181,200,220,239,259,278,298,318],tb=document.getElementById('tb'),w=[62,92,92,105],h='';
rows.forEach(function(r,k){h+='<div style="position:absolute;top:'+(ys[k]-113-40-10)+'px;left:0;display:flex;width:351px;text-align:center">';r.forEach(function(c,m){h+='<div style="width:'+w[m]+'px'+(m==0?';font-style:italic':'')+'">'+c+'</div>';});h+='</div>';});
tb.innerHTML=h;
</script>
</body></html>
